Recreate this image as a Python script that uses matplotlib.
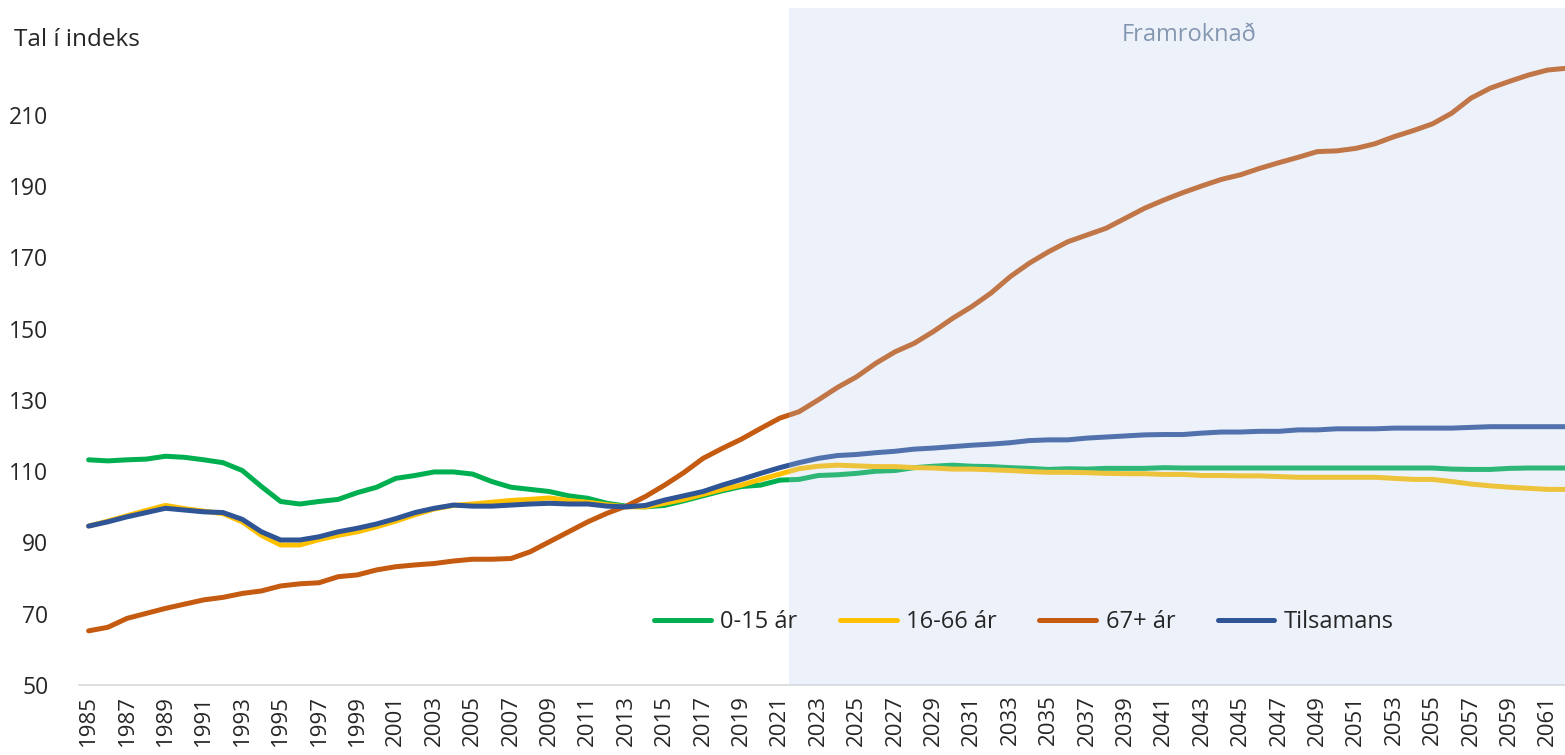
import numpy as np
import matplotlib
matplotlib.use("Agg")
import matplotlib.pyplot as plt

plt.rcParams['font.family'] = ['Open Sans', 'DejaVu Sans']

years = np.arange(1985, 2063)

# 0-15 ar
young = [113.2, 112.9, 113.2, 113.4, 114.2, 113.9, 113.2, 112.4, 110.2, 105.7,
         101.5, 100.8, 101.5, 102.1, 104.0, 105.5, 108.0, 108.8, 109.8, 109.8,
         109.2, 107.1, 105.5, 104.9, 104.3, 103.1, 102.4, 101.0, 100.2, 100.0,
         100.4, 101.7, 103.1, 104.5, 105.7, 106.1, 107.5, 107.7, 108.8, 109.0,
         109.4, 110.0, 110.2, 111.0, 111.4, 111.7, 111.4, 111.3, 111.0, 110.8,
         110.5, 110.7, 110.6, 110.8, 110.8, 110.8, 111.0, 110.9, 110.9, 110.9,
         110.9, 110.9, 110.9, 110.9, 110.9, 110.9, 110.9, 110.9, 110.9, 110.9,
         110.9, 110.6, 110.5, 110.5, 110.8, 110.9, 110.9, 110.9]
# 16-66 ar
working = [94.6, 96.0, 97.5, 99.0, 100.4, 99.5, 98.8, 98.1, 95.8, 92.0,
           89.3, 89.3, 90.8, 92.0, 93.0, 94.4, 96.0, 97.8, 99.4, 100.4,
           100.8, 101.3, 101.8, 102.1, 102.5, 101.8, 101.3, 100.6, 100.0, 100.0,
           101.0, 102.1, 103.5, 104.9, 106.1, 107.7, 109.2, 110.7, 111.4, 111.7,
           111.5, 111.3, 111.3, 111.0, 110.9, 110.6, 110.6, 110.4, 110.2, 109.9,
           109.7, 109.7, 109.6, 109.4, 109.3, 109.3, 109.1, 109.1, 108.8, 108.8,
           108.7, 108.7, 108.5, 108.3, 108.3, 108.3, 108.3, 108.3, 108.0, 107.7,
           107.7, 107.1, 106.4, 105.9, 105.5, 105.2, 104.9, 104.9]
# 67+ ar
old = [65.2, 66.2, 68.7, 70.1, 71.5, 72.7, 73.9, 74.6, 75.7, 76.4,
       77.8, 78.4, 78.7, 80.4, 80.9, 82.3, 83.2, 83.7, 84.1, 84.8,
       85.3, 85.3, 85.5, 87.4, 90.2, 93.0, 95.8, 98.2, 100.2, 102.9,
       106.1, 109.6, 113.6, 116.4, 119.0, 122.0, 124.9, 126.7, 130.0, 133.5,
       136.5, 140.3, 143.5, 145.9, 149.2, 152.9, 156.2, 160.0, 164.6, 168.4,
       171.6, 174.4, 176.3, 178.2, 181.0, 183.8, 186.1, 188.2, 190.1, 191.9,
       193.2, 195.0, 196.6, 198.1, 199.7, 199.9, 200.6, 201.9, 203.9, 205.6,
       207.5, 210.5, 214.7, 217.5, 219.4, 221.2, 222.6, 223.1]
# Tilsamans
total = [94.6, 95.8, 97.2, 98.4, 99.6, 99.1, 98.6, 98.4, 96.5, 93.0,
         90.7, 90.7, 91.6, 93.0, 94.0, 95.2, 96.7, 98.4, 99.6, 100.5,
         100.2, 100.2, 100.5, 100.8, 101.0, 100.8, 100.8, 100.2, 100.0, 100.4,
         101.9, 103.1, 104.3, 106.1, 107.7, 109.4, 111.0, 112.4, 113.6, 114.4,
         114.7, 115.2, 115.6, 116.2, 116.5, 116.9, 117.3, 117.6, 118.0, 118.6,
         118.8, 118.8, 119.3, 119.6, 119.9, 120.2, 120.3, 120.3, 120.7, 121.0,
         121.0, 121.2, 121.2, 121.6, 121.6, 121.9, 121.9, 121.9, 122.1, 122.1,
         122.1, 122.1, 122.3, 122.5, 122.5, 122.5, 122.5, 122.5]

labels = ["0-15 ár", "16-66 ár", "67+ ár", "Tilsamans"]
colors = ["#00B050", "#FFC000", "#C55A11", "#2F5597"]
series = [young, working, old, total]

fig = plt.figure(figsize=(15.65, 7.55), dpi=100)
ax = fig.add_axes([0.0505, 0.0927, 0.9569, 0.8967])

for vals, lab, col in zip(series, labels, colors):
    ax.plot(years, vals, color=col, lw=3.6, label=lab, zorder=2,
            solid_capstyle='round', solid_joinstyle='round')

# projection shading (drawn over lines, semi transparent)
ax.axvspan(2021.5, 2062.5, color=(0.72, 0.80, 0.93), alpha=0.25, lw=0, zorder=3)
ax.text(2042.3, 232.5, "Framroknað", color="#8497B0", fontsize=17,
        ha='center', va='center', zorder=4)

ax.set_xlim(1984.5, 2062.5)
ax.set_ylim(50, 240)
ax.set_yticks(np.arange(50, 211, 20))
ax.set_xticks(years[::2])
ax.set_xticklabels([str(y) for y in years[::2]], rotation=90)
ax.tick_params(axis='y', length=0, pad=22, labelsize=16.5, labelcolor="#262626")
ax.tick_params(axis='x', length=0, pad=7, labelsize=16, labelcolor="#262626")

for s in ['top', 'right', 'left']:
    ax.spines[s].set_visible(False)
ax.spines['bottom'].set_color("#D9D9D9")
ax.spines['bottom'].set_linewidth(1.2)

fig.text(14 / 1565, 1 - 40 / 755, "Tal í indeks", fontsize=17.5, color="#262626",
         ha='left', va='center')

leg = ax.legend(loc='center', bbox_to_anchor=(1024 / 1565, 1 - 622 / 755),
                bbox_transform=fig.transFigure, ncol=4, frameon=False,
                fontsize=17, handlelength=2.4, columnspacing=1.8,
                handletextpad=0.4)
for t in leg.get_texts():
    t.set_color("#262626")
leg.set_zorder(5)

fig.savefig("out.png", dpi=100)
